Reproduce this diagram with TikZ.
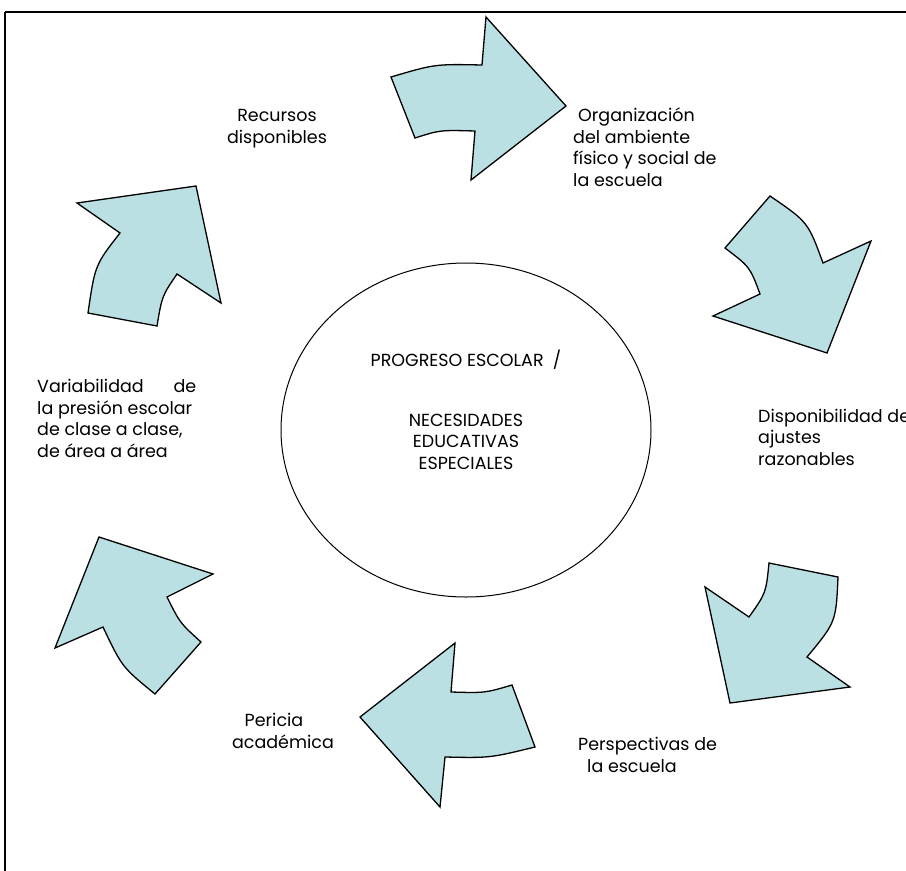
\documentclass[tikz,border=0pt]{standalone}
\usepackage{fontspec}
\setmainfont{Poppins}
\definecolor{arrowfill}{HTML}{BBE0E3}
\begin{document}
\begin{tikzpicture}[x=1pt,y=-1pt,
  arrowshape/.style={draw=black,fill=arrowfill,line width=1.3pt,line join=miter},
  lbl/.style={font=\fontsize{17.5}{21.5}\selectfont,inner sep=0pt}]
\useasboundingbox (0,0) rectangle (906,871);
\draw[line width=1.6pt] (5,12) -- (906,12);
\draw[line width=1.4pt] (5,871) -- (5,12);
% circle
\draw[line width=1pt] (466,430) ellipse [x radius=185, y radius=167];
\node[lbl,align=center,anchor=base] (hubtext) at (466,469) {PROGRESO ESCOLAR~~/\\[38.5pt]NECESIDADES\\EDUCATIVAS\\ESPECIALES};
% arrows
\draw[arrowshape] (391,77) .. controls (435,64) .. (482,65) -- (486,17) -- (566,106) -- (471,180) -- (475,131) .. controls (440,130) .. (415,138) -- cycle;
\draw[arrowshape] (770,196) .. controls (808,222) .. (823,263) -- (871,241) -- (827,353) -- (713,316) -- (760,294) .. controls (750,267) .. (725,248) -- cycle;
\draw[arrowshape] (769,563) -- (838,577) .. controls (836,622) .. (807,657) -- (850,687) -- (730,703) -- (705,587) -- (749,617) .. controls (766,593) .. cycle;
\draw[arrowshape] (455,643) -- (451,692) .. controls (485,693) .. (512,685) -- (535,747) .. controls (490,758) .. (445,757) -- (440,807) -- (360,717) -- cycle;
\draw[arrowshape] (99,537) -- (213,574) -- (167,597) .. controls (180,623) .. (201,642) -- (155,694) .. controls (122,667) .. (103,627) -- (55,648) -- cycle;
\draw[arrowshape] (196,186) -- (221,303) -- (177,274) .. controls (162,296) .. (157,326) -- (88,313) .. controls (95,265) .. (120,233) -- (77,203) -- cycle;
% labels
\node[lbl,align=center,anchor=base] (recursos) at (277,143) {Recursos\\disponibles};
\node[lbl,align=left,anchor=base west] (organiz) at (573,186) {\hspace*{5pt}Organización\\del ambiente\\físico y social de\\la escuela};
\node[lbl,align=left,anchor=base west] (disponib) at (758,465) {Disponibilidad de\\ajustes\\razonables};
\node[lbl,align=left,anchor=base west] (variab) at (37,457) {\makebox[159pt][s]{Variabilidad\hfill de}\\la presión escolar\\de clase a clase,\\de área a área};
\node[lbl,align=left,anchor=base west] (perspect) at (578,772) {Perspectivas de\\\hspace*{9pt}la escuela};
\node[lbl,align=center,anchor=base] (pericia) at (283,748) {Pericia\hspace*{18pt}\\académica};
\end{tikzpicture}
\end{document}
